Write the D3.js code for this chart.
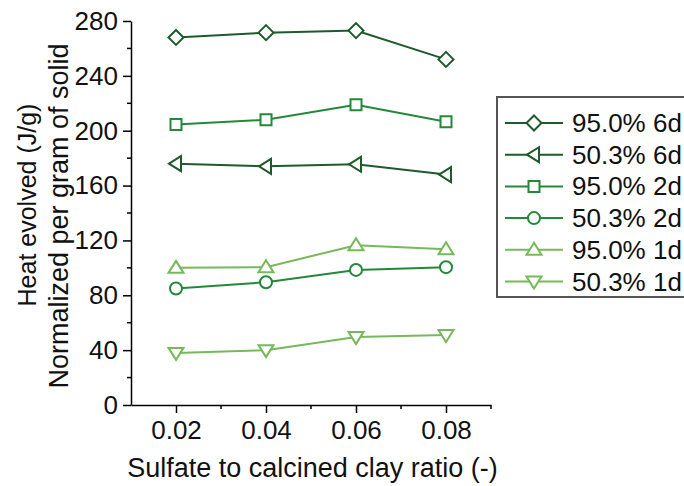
<!DOCTYPE html>
<html><head><meta charset="utf-8">
<script src="https://cdn.jsdelivr.net/npm/d3@7"></script>
<style>body{margin:0;background:#fff}svg{display:block;font-family:Arial,"Liberation Sans",sans-serif}</style>
</head><body>
<svg id="c" width="684" height="486"></svg>
<script>
const ratios = [0.02, 0.04, 0.06, 0.08];
const seriesNames = ["95.0% 6d", "50.3% 6d", "95.0% 2d", "50.3% 2d", "95.0% 1d", "50.3% 1d"];
const v95_6d = [268, 271.5, 273, 252];
const v50_6d = [176, 174, 175.5, 168];
const v95_2d = [204.5, 208, 219, 206.5];
const v50_2d = [85, 89.5, 98.5, 100.5];
const v95_1d = [100, 100.5, 116.5, 113.5];
const v50_1d = [38, 40, 49.5, 51];
const yTicks = [0, 40, 80, 120, 160, 200, 240, 280];
const xTicks = [0.02, 0.04, 0.06, 0.08];
const seriesValues = [v95_6d, v50_6d, v95_2d, v50_2d, v95_1d, v50_1d];
const colors = ["#1e5a2b", "#1e5a2b", "#23883a", "#23883a", "#76b95a", "#76b95a"];
const shapes = ["diamond", "left", "square", "circle", "up", "down"];

const svg = d3.select("#c");
const x = d3.scaleLinear().domain([0.01, 0.09]).range([131, 491]);
const y = d3.scaleLinear().domain([0, 280]).range([405, 21]);

// axes
const yAxis = d3.axisLeft(y).tickValues(yTicks).tickSize(8).tickSizeOuter(0).tickPadding(5).tickFormat(d3.format("d"));
const gy = svg.append("g").attr("transform", "translate(131,0)").call(yAxis);
gy.selectAll(".tick line").attr("stroke", "#000").attr("stroke-width", 1.5);
const yMinor = d3.range(20, 280, 40);
gy.selectAll(".minor").data(yMinor).enter().append("line")
  .attr("x1", 0).attr("x2", -4).attr("y1", d => y(d)).attr("y2", d => y(d)).attr("stroke", "#000").attr("stroke-width", 1.5);

const xAxis = d3.axisBottom(x).tickValues(xTicks).tickSize(8).tickSizeOuter(0).tickPadding(7.5).tickFormat(d3.format(".2f"));
const gx = svg.append("g").attr("transform", "translate(0,405)").call(xAxis);
gx.selectAll(".tick line").attr("stroke", "#000").attr("stroke-width", 1.5);
const xMinor = [0.03, 0.05, 0.07, 0.09];
gx.selectAll(".minor").data(xMinor).enter().append("line")
  .attr("x1", d => x(d)).attr("x2", d => x(d)).attr("y1", 0).attr("y2", 4).attr("stroke", "#000").attr("stroke-width", 1.5);
[gx, gy].forEach(g => {
  g.select(".domain").attr("stroke", "#000").attr("stroke-width", 1.5);
  g.selectAll("text").attr("font-size", 26).attr("fill", "#111").attr("font-family", "Arial, 'Liberation Sans', sans-serif");
});

// titles
svg.append("text").attr("x", 312.5).attr("y", 477).attr("text-anchor", "middle").attr("font-size", 27).attr("fill", "#111").text("Sulfate to calcined clay ratio (-)");
svg.append("text").attr("transform", "translate(36,205) rotate(-90)").attr("text-anchor", "middle").attr("font-size", 25).attr("fill", "#111").text("Heat evolved (J/g)");
svg.append("text").attr("transform", "translate(68,216) rotate(-90)").attr("text-anchor", "middle").attr("font-size", 27).attr("fill", "#111").text("Normalized per gram of solid");

function marker(g, shape, cx, cy, color) {
  let el;
  if (shape === "circle") el = g.append("circle").attr("cx", cx).attr("cy", cy).attr("r", 6);
  else {
    let pts;
    if (shape === "diamond") pts = [[0,-7.5],[7.5,0],[0,7.5],[-7.5,0]];
    else if (shape === "square") pts = [[-5.5,-5.5],[5.5,-5.5],[5.5,5.5],[-5.5,5.5]];
    else if (shape === "up") pts = [[0,-7],[7.5,5],[-7.5,5]];
    else if (shape === "down") pts = [[0,7],[7.5,-5],[-7.5,-5]];
    else if (shape === "left") pts = [[-7,0],[5,-7.5],[5,7.5]];
    el = g.append("polygon").attr("points", pts.map(p => [cx+p[0], cy+p[1]].join(",")).join(" "));
  }
  el.attr("fill", "#fff").attr("stroke", color).attr("stroke-width", 2);
}

const line = d3.line().x((d, i) => x(ratios[i])).y(d => y(d));
const order = [5, 4, 3, 2, 1, 0];
order.forEach(k => {
  const g = svg.append("g");
  g.append("path").attr("d", line(seriesValues[k])).attr("fill", "none").attr("stroke", colors[k]).attr("stroke-width", 2);
  seriesValues[k].forEach((v, i) => marker(g, shapes[k], x(ratios[i]), y(v), colors[k]));
});

// legend
const lg = svg.append("g");
lg.append("rect").attr("x", 497).attr("y", 97).attr("width", 200).attr("height", 200).attr("fill", "#fff").attr("stroke", "#555").attr("stroke-width", 2);
seriesNames.forEach((name, i) => {
  const cy = 123 + i * 31.7;
  lg.append("line").attr("x1", 505).attr("x2", 563).attr("y1", cy).attr("y2", cy).attr("stroke", colors[i]).attr("stroke-width", 2);
  marker(lg, shapes[i], 534, cy, colors[i]);
  lg.append("text").attr("x", 572).attr("y", cy + 9).attr("font-size", 26).attr("fill", "#111").text(name);
});
</script>
</body></html>
